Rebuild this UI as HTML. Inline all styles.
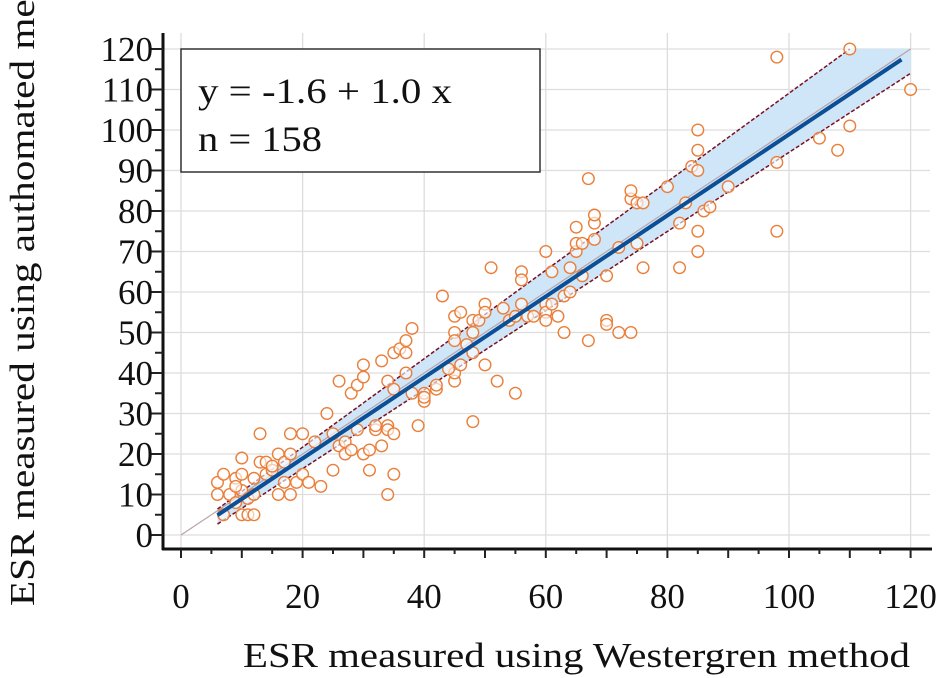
<!DOCTYPE html>
<html><head><meta charset="utf-8">
<style>
html,body{margin:0;padding:0;background:#fff;}
svg{display:block;font-family:"Liberation Serif",serif;}
</style></head>
<body>
<svg id="chart" width="945" height="678" viewBox="0 0 945 678" xmlns="http://www.w3.org/2000/svg">
<g id="grid"></g>
<g id="band"></g>
<g id="pts"></g>
<g id="fit"></g>
<g id="axes"></g>
<g>
<rect x="181" y="49" width="359" height="123" fill="#fff" stroke="#333" stroke-width="1.5"/>
<text x="198" y="103" font-size="36" textLength="254" lengthAdjust="spacingAndGlyphs" fill="#111">y = -1.6 + 1.0 x</text>
<text x="198" y="151" font-size="36" textLength="124" lengthAdjust="spacingAndGlyphs" fill="#111">n = 158</text>
</g>
<text x="243" y="667" font-size="35" textLength="667" lengthAdjust="spacingAndGlyphs" fill="#111">ESR measured using Westergren method</text>
<text transform="translate(34,606) rotate(-90)" font-size="35" textLength="680" lengthAdjust="spacingAndGlyphs" fill="#111">ESR measured using authomated method</text>
</svg>
<script>
const xTicks=[0,20,40,60,80,100,120];
const yTicks=[0,10,20,30,40,50,60,70,80,90,100,110,120];
const xs=[6,6,7,7,8,9,9,10,10,10,10,11,11,12,12,13,13,14,14,15,15,16,16,17,17,18,18,18,19,20,20,21,23,24,25,25,26,26,27,27,28,28,29,30,30,30,31,31,32,32,33,33,34,34,34,34,35,35,35,35,36,37,37,37,38,38,39,40,40,40,42,42,43,45,45,45,45,45,46,46,47,48,48,48,48,49,50,50,50,51,52,54,55,55,56,56,56,57,58,60,60,60,60,61,61,62,63,63,64,64,65,65,65,66,67,67,68,68,68,70,70,70,72,74,74,74,75,75,76,76,80,82,82,83,84,85,85,85,85,85,86,87,90,98,98,98,105,108,110,110,120,9,12,22,29,44,53,66,72];
const ys=[10,13,15,5,10,14,8,19,15,11,5,9,5,5,14,25,18,18,15,16,17,20,10,13,18,25,20,10,13,25,15,13,12,30,16,25,38,22,23,20,21,35,37,42,39,20,21,16,26,27,22,43,10,38,27,26,45,36,25,15,46,48,40,45,51,35,27,33,35,34,36,37,59,54,38,40,50,48,55,42,47,53,50,28,45,53,57,55,42,66,38,53,35,54,65,57,63,54,54,70,57,55,53,65,57,54,50,59,60,66,76,70,72,72,48,88,73,77,79,64,53,52,50,50,83,85,72,82,66,82,86,77,66,82,91,100,95,90,75,70,80,81,86,118,92,75,98,95,120,101,110,12,10,23,26,41,56,64,71];
const fitIntercept=-1.1, fitSlope=1.0, fitStart=6, fitEnd=118.5;
const upperBand=[[6,6.4],[110,120]];
const lowerBand=[[6,2.7],[120,114]];
const NS='http://www.w3.org/2000/svg';
const X=v=>181+v*6.08, Y=v=>535-v*4.05;
function mk(tag,attrs,parent){const e=document.createElementNS(NS,tag);for(const k in attrs)e.setAttribute(k,attrs[k]);parent.appendChild(e);return e;}
const grid=document.getElementById('grid'),axes=document.getElementById('axes');
for(let v=0;v<=120;v+=20){const l=mk('line',{x1:X(v),x2:X(v),y1:33,y2:549,stroke:'#ddd','stroke-width':1.3},grid);

}
for(let v=0;v<=120;v+=10){const l=mk('line',{x1:163,x2:930,y1:Y(v),y2:Y(v),stroke:'#ddd','stroke-width':1.3},grid);

}
const band=document.getElementById('band');
const poly=mk('polygon',{points:[[X(upperBand[0][0]),Y(upperBand[0][1])],[X(upperBand[1][0]),Y(upperBand[1][1])],[X(120),Y(120)],[X(lowerBand[1][0]),Y(lowerBand[1][1])],[X(lowerBand[0][0]),Y(lowerBand[0][1])]].map(p=>p.join(',')).join(' '),fill:'#cfe5f8'},band);


const idl=mk('line',{x1:X(0),y1:Y(0),x2:X(120),y2:Y(120),stroke:'#b9a3a8','stroke-width':1.2},band);


[upperBand,lowerBand].forEach((b,i)=>{const l=mk('line',{x1:X(b[0][0]),y1:Y(b[0][1]),x2:X(b[1][0]),y2:Y(b[1][1]),stroke:'#7a1020','stroke-width':1.5,'stroke-dasharray':'4,2'},band);

});
const pts=document.getElementById('pts');
for(let i=0;i<xs.length;i++){const c=mk('circle',{cx:X(xs[i]),cy:Y(ys[i]),r:5.8,fill:'#fff','fill-opacity':0.6,stroke:'#ea7f3a','stroke-width':1.4},pts);

}
const fl=mk('line',{x1:X(fitStart),y1:Y(fitIntercept+fitSlope*fitStart),x2:X(fitEnd),y2:Y(fitIntercept+fitSlope*fitEnd),stroke:'#0b4f96','stroke-width':4},document.getElementById('fit'));


const ya=mk('line',{x1:163,x2:163,y1:33,y2:550,stroke:'#111','stroke-width':3},axes);


const xa=mk('line',{x1:162,x2:932,y1:549,y2:549,stroke:'#111','stroke-width':3},axes);


for(let v=0;v<=120;v+=5){const major=v%10===0;const t=mk('line',{x1:163,x2:major?149:155,y1:Y(v),y2:Y(v),stroke:'#222','stroke-width':2},axes);

}
for(let v=0;v<=120;v+=5){const major=v%10===0;const t=mk('line',{x1:X(v),x2:X(v),y1:549,y2:major?558:554,stroke:'#222','stroke-width':2},axes);

}
yTicks.forEach(v=>{const t=mk('text',{x:153,y:Y(v)+12,'font-size':35,'text-anchor':'end',fill:'#111'},axes);t.textContent=v;

});
xTicks.forEach(v=>{const t=mk('text',{x:X(v),y:608,'font-size':35,'text-anchor':'middle',fill:'#111'},axes);t.textContent=v;

});
</script>
</body></html>
